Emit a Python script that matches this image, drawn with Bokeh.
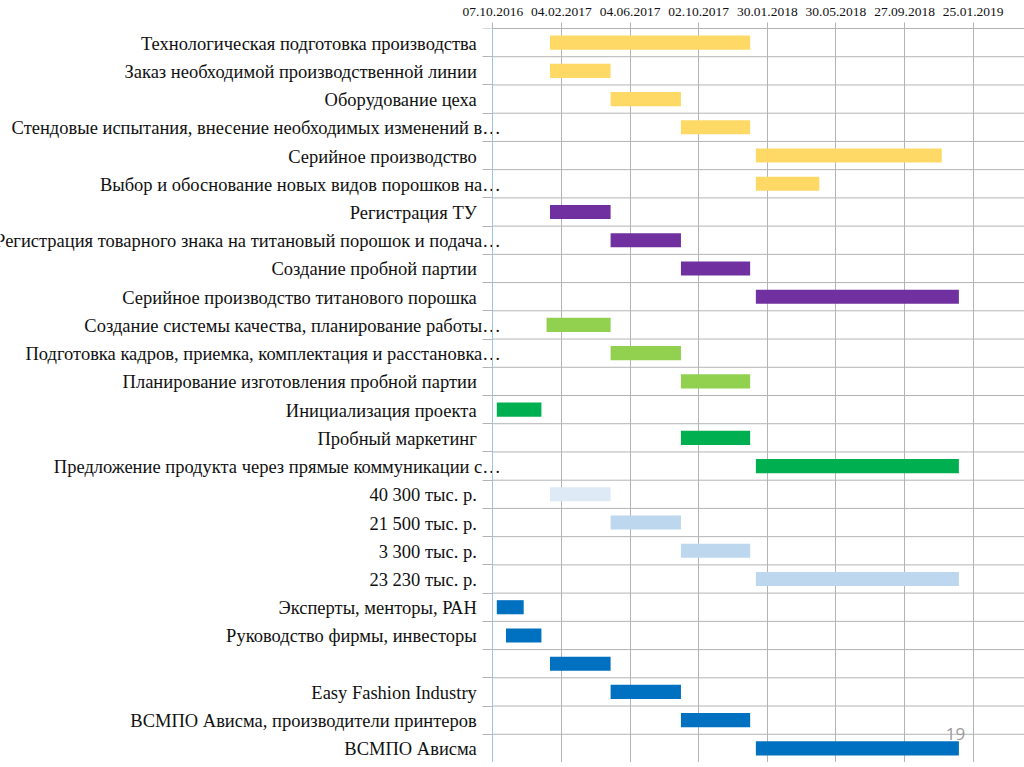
import pandas as pd
from bokeh.plotting import figure
from bokeh.models import (Range1d, FixedTicker, DatetimeTickFormatter, ColumnDataSource, Label)
from bokeh.core.properties import value
from bokeh.embed import file_html
from bokeh.resources import INLINE

# ---------------- data ----------------
tasks = [
    "Технологическая подготовка производства",
    "Заказ необходимой производственной линии",
    "Оборудование цеха",
    "Стендовые испытания, внесение необходимых изменений в…",
    "Серийное производство",
    "Выбор и обоснование новых видов порошков на…",
    "Регистрация ТУ",
    "Регистрация товарного знака на титановый порошок и подача…",
    "Создание пробной партии",
    "Серийное производство титанового порошка",
    "Создание системы качества, планирование работы…",
    "Подготовка кадров, приемка, комплектация и расстановка…",
    "Планирование изготовления пробной партии",
    "Инициализация проекта",
    "Пробный маркетинг",
    "Предложение продукта через прямые коммуникации с…",
    "40 300 тыс. р.",
    "21 500 тыс. р.",
    "3 300 тыс. р.",
    "23 230 тыс. р.",
    "Эксперты, менторы, РАН",
    "Руководство фирмы, инвесторы",
    "",
    "Easy Fashion Industry",
    "ВСМПО Ависма, производители принтеров",
    "ВСМПО Ависма",
]

starts = [
    "2017-01-15", "2017-01-15", "2017-05-01", "2017-09-01", "2018-01-10", "2018-01-10",
    "2017-01-15", "2017-05-01", "2017-09-01", "2018-01-10",
    "2017-01-09", "2017-05-01", "2017-09-01",
    "2016-10-14", "2017-09-01", "2018-01-10",
    "2017-01-15", "2017-05-01", "2017-09-01", "2018-01-10",
    "2016-10-14", "2016-10-30", "2017-01-15", "2017-05-01", "2017-09-01", "2018-01-10",
]

ends = [
    "2017-12-31", "2017-05-01", "2017-09-01", "2017-12-31", "2018-12-01", "2018-05-01",
    "2017-05-01", "2017-09-01", "2017-12-31", "2018-12-31",
    "2017-05-01", "2017-09-01", "2017-12-31",
    "2016-12-31", "2017-12-31", "2018-12-31",
    "2017-05-01", "2017-09-01", "2017-12-31", "2018-12-31",
    "2016-11-30", "2016-12-31", "2017-05-01", "2017-09-01", "2017-12-31", "2018-12-31",
]

tick_dates = ["2016-10-07", "2017-02-04", "2017-06-04", "2017-10-02",
              "2018-01-30", "2018-05-30", "2018-09-27", "2019-01-25"]

page_number = "19"

# ---------------- styles ----------------
YELLOW = "#FFD966"
PURPLE = "#7030A0"
LGREEN = "#92D050"
GREEN = "#00B050"
PALE = "#DEEBF7"
LBLUE = "#BDD7EE"
BLUE = "#0070C0"
bar_colors = [YELLOW] * 6 + [PURPLE] * 4 + [LGREEN] * 3 + [GREEN] * 3 + \
             [PALE] + [LBLUE] * 3 + [BLUE] * 6

GRID = "#B4B4B4"
FONT = "Liberation Serif"

FRAME_W = 1024
LABEL_AREA = 492.3          # px left of the time axis origin
DAYS_PER_PX = 1.7486

n = len(tasks)
ycent = [i + 0.5 for i in range(n)]
x0 = pd.Timestamp(tick_dates[0])
xs = x0 - pd.Timedelta(days=LABEL_AREA * DAYS_PER_PX)
xe = xs + pd.Timedelta(days=FRAME_W * DAYS_PER_PX)

p = figure(x_axis_type="datetime", x_axis_location="above", y_axis_location="right",
           x_range=Range1d(xs, xe), y_range=Range1d(n, 0),
           frame_width=FRAME_W, frame_height=734,
           min_border_left=0, min_border_right=0, min_border_top=28, min_border_bottom=0,
           output_backend="svg", toolbar_location=None)
p.outline_line_color = None
p.background_fill_color = "white"

# row boundary lines (restricted to the time area)
bounds_y = list(range(n + 1))
p.segment(x0=[x0] * len(bounds_y), x1=[xe] * len(bounds_y), y0=bounds_y, y1=bounds_y,
          line_color=GRID, line_width=1)

src = ColumnDataSource(dict(
    y=ycent,
    left=[pd.Timestamp(s) for s in starts],
    right=[pd.Timestamp(e) for e in ends],
    color=bar_colors,
))
p.hbar(y="y", left="left", right="right", height=0.5, fill_color="color",
       line_color=None, source=src)

# x axis on top
tick_ms = [pd.Timestamp(d).timestamp() * 1000 for d in tick_dates]
p.xaxis.ticker = FixedTicker(ticks=tick_ms, minor_ticks=[])
p.xaxis.bounds = (x0.timestamp() * 1000, xe.timestamp() * 1000)
fmt = "%d.%m.%Y"
p.xaxis.formatter = DatetimeTickFormatter(microseconds=fmt, milliseconds=fmt, seconds=fmt,
                                          minsec=fmt, minutes=fmt, hourmin=fmt, hours=fmt,
                                          days=fmt, months=fmt, years=fmt)
p.xaxis.major_label_text_font = FONT
p.xaxis.major_label_text_font_size = "13.5px"
p.xaxis.major_label_text_color = "#111111"
p.xaxis.major_label_standoff = 7
p.xaxis.major_tick_out = 6
p.xaxis.major_tick_in = 0
p.xaxis.major_tick_line_color = GRID
p.xaxis.axis_line_color = GRID
p.xaxis.minor_tick_line_color = None

# y axis line at the time origin with boundary tick marks pointing left
p.yaxis.fixed_location = x0.timestamp() * 1000
p.yaxis.ticker = FixedTicker(ticks=[], minor_ticks=bounds_y)
p.yaxis.major_label_text_font_size = "0px"
p.yaxis.major_label_standoff = 0
p.yaxis.axis_line_color = "#9DC3E6"
p.yaxis.minor_tick_out = 0
p.yaxis.minor_tick_in = 10
p.yaxis.minor_tick_line_color = GRID
p.yaxis.major_tick_line_color = None
p.yaxis.major_tick_out = 0
p.yaxis.major_tick_in = 0

p.xgrid.grid_line_color = GRID
p.ygrid.grid_line_color = None

# category labels
xoff = [8 if t.endswith("…") else -16 for t in tasks]
lsrc = ColumnDataSource(dict(y=ycent, text=tasks, xoff=xoff, x=[x0] * n))
p.text(x="x", y="y", text="text", x_offset="xoff", y_offset=1, source=lsrc,
       text_align="right", text_baseline="middle",
       text_font=value(FONT), text_font_size="18.5px", text_color="#111111")

# slide page number
p.add_layout(Label(x=pd.Timestamp("2018-12-25").timestamp() * 1000, y=25.0, text=page_number,
                   text_align="center", text_baseline="middle", text_font="Open Sans",
                   text_font_size="17px", text_color="#9A9A9A"))

open("out.html", "w").write(file_html(p, INLINE))
